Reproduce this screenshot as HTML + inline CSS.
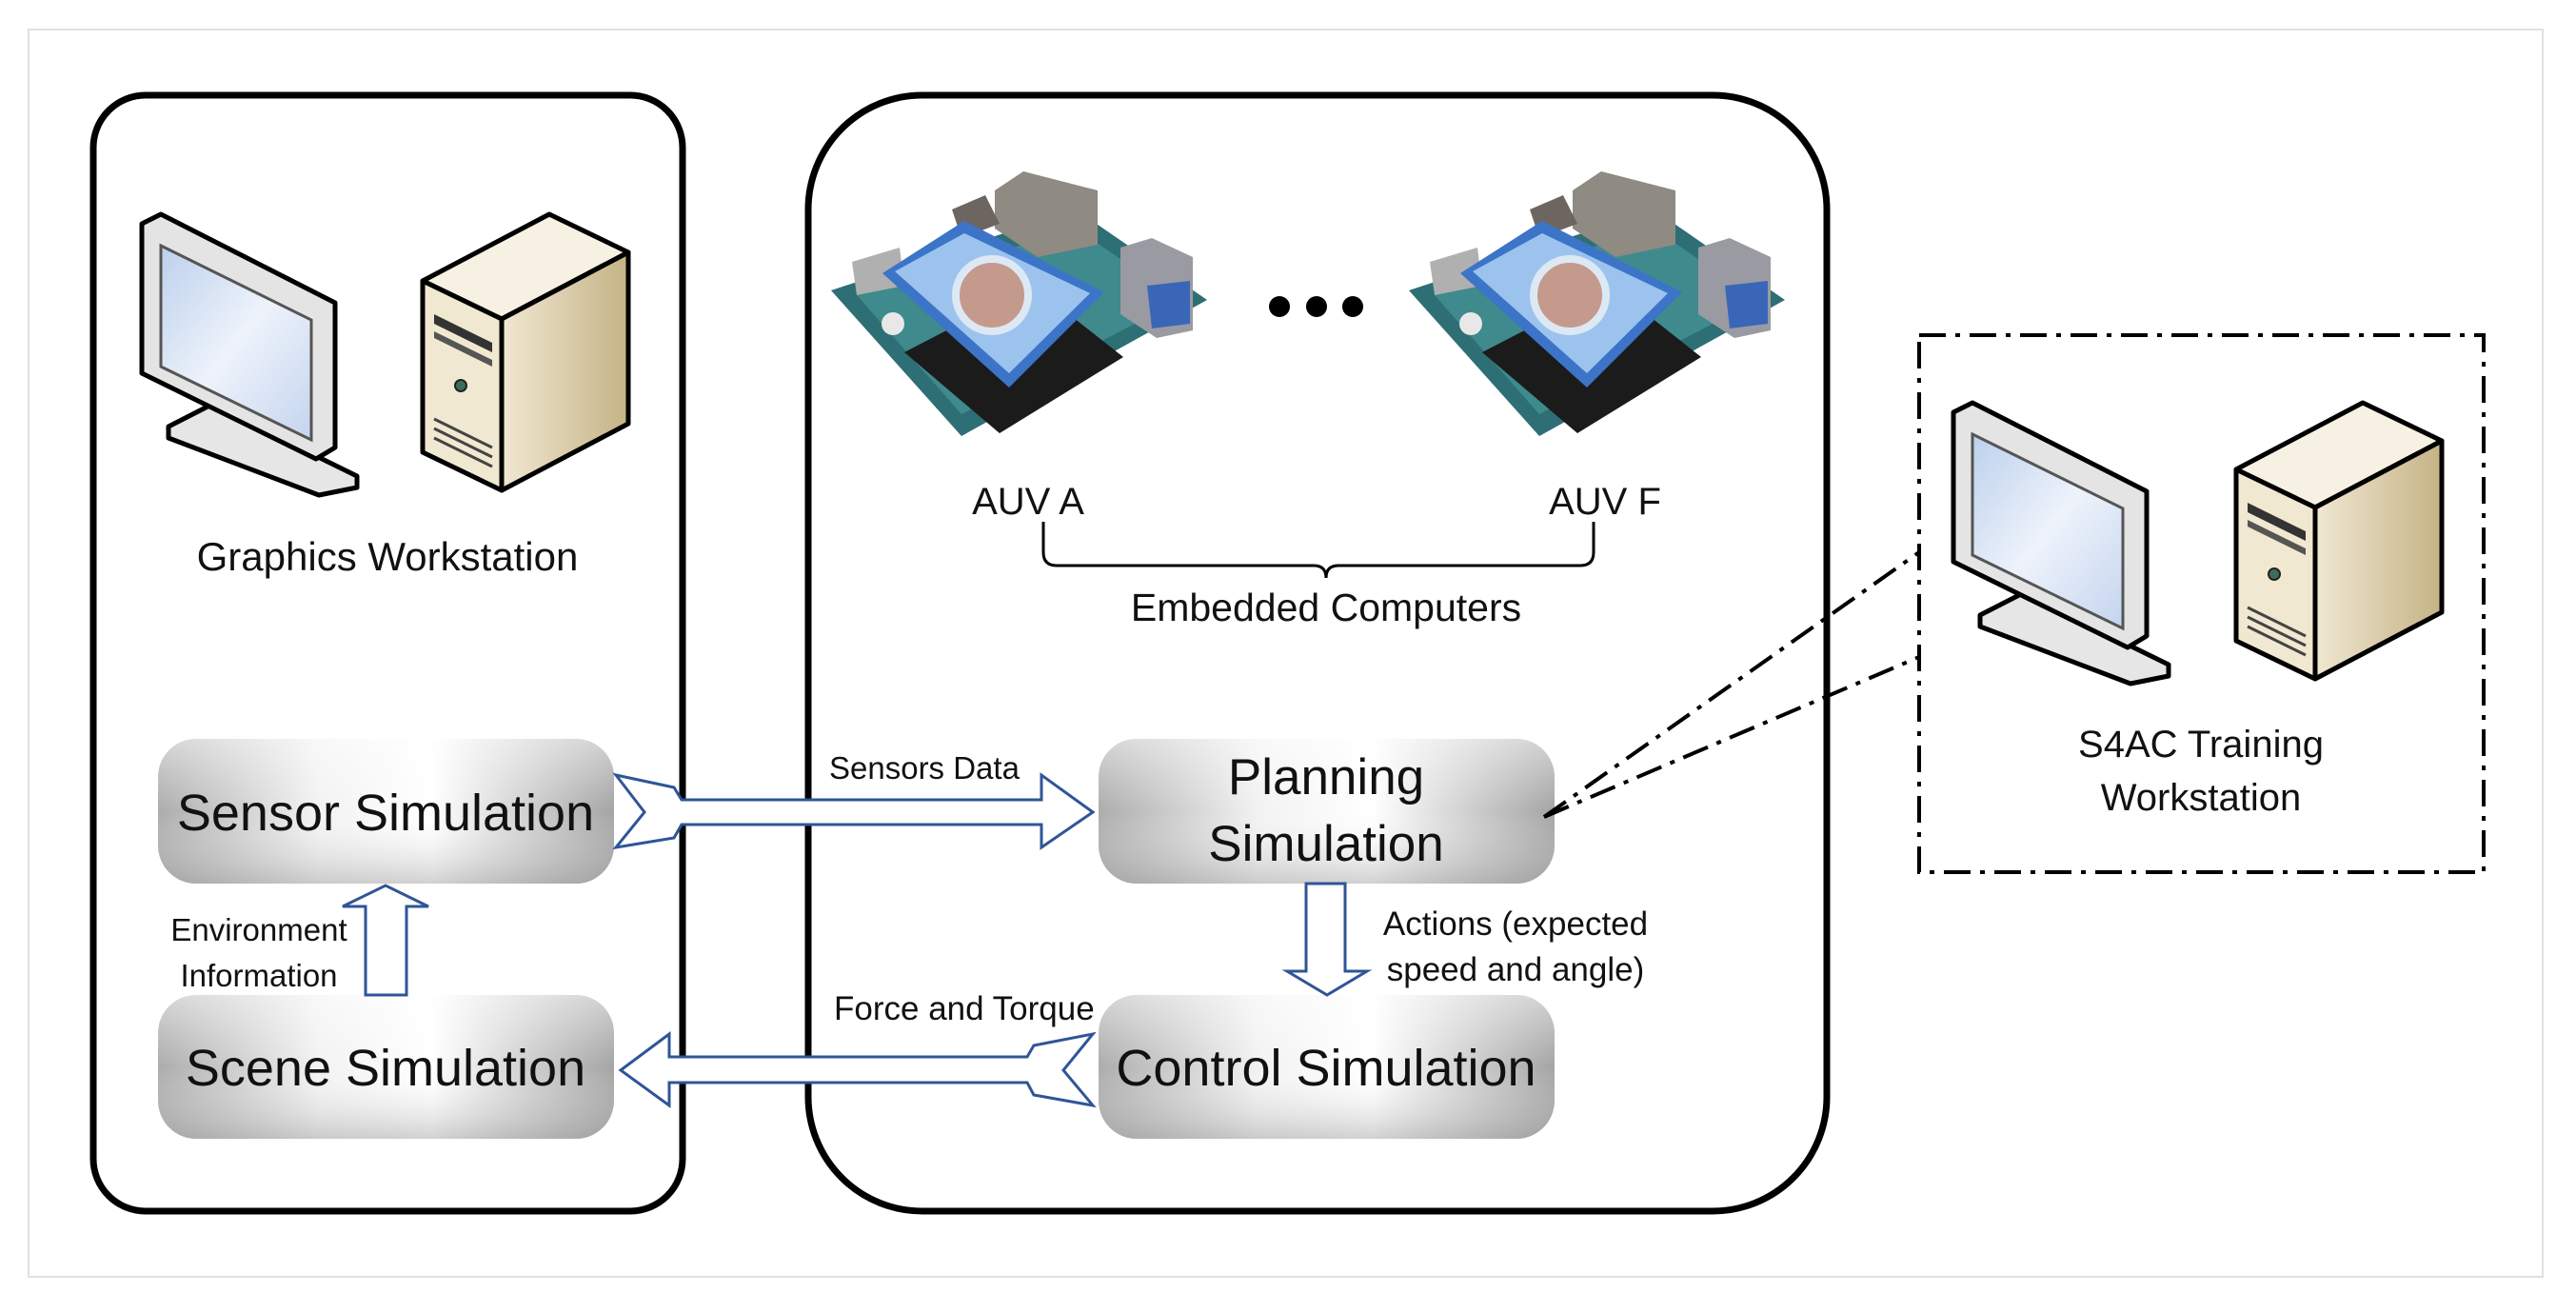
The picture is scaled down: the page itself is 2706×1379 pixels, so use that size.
<!DOCTYPE html>
<html><head><meta charset="utf-8"><style>
html,body{margin:0;padding:0;background:#fff}
svg{display:block}
text{font-family:"Liberation Sans",sans-serif;fill:#111}
</style></head><body>
<svg width="2706" height="1379" viewBox="0 0 2706 1379" xmlns="http://www.w3.org/2000/svg">
<defs>
<linearGradient id="bx" x1="0" y1="0" x2="1" y2="0">
<stop offset="0" stop-color="#acacac"/><stop offset="0.35" stop-color="#f2f2f2"/><stop offset="0.6" stop-color="#ffffff"/><stop offset="1" stop-color="#a4a4a4"/>
</linearGradient>
<linearGradient id="bv" x1="0" y1="0" x2="0" y2="1">
<stop offset="0" stop-color="#fff" stop-opacity="0.5"/><stop offset="0.5" stop-color="#fff" stop-opacity="0"/><stop offset="1" stop-color="#999" stop-opacity="0.45"/>
</linearGradient>
<linearGradient id="scr" x1="0" y1="0" x2="1" y2="1">
<stop offset="0" stop-color="#bcd0ec"/><stop offset="0.5" stop-color="#eef3fb"/><stop offset="1" stop-color="#c4d4ee"/>
</linearGradient>
<linearGradient id="side" x1="0" y1="0" x2="1" y2="0">
<stop offset="0" stop-color="#f0e8d2"/><stop offset="1" stop-color="#c5b386"/>
</linearGradient>
<g id="mon">
<polygon points="30,228 75,205 228,280 228,292 188,300 30,240" fill="#e6e6e6" stroke="#000" stroke-width="5" stroke-linejoin="round"/>
<polygon points="2,15 22,5 205,98 205,250 185,262 2,172" fill="#e4e4e4" stroke="#000" stroke-width="5" stroke-linejoin="round"/>
<polygon points="22,38 180,116 180,242 22,165" fill="url(#scr)" stroke="#555" stroke-width="3"/>
</g>
<g id="tow">
<polygon points="2,75 135,5 218,45 85,115" fill="#f6f1e2" stroke="#000" stroke-width="5" stroke-linejoin="round"/>
<polygon points="2,75 85,115 85,295 2,255" fill="#f0e8d0" stroke="#000" stroke-width="5" stroke-linejoin="round"/>
<polygon points="85,115 218,45 218,225 85,295" fill="url(#side)" stroke="#000" stroke-width="5" stroke-linejoin="round"/>
<polygon points="14,110 75,140 75,150 14,120" fill="#333"/>
<polygon points="14,128 75,158 75,165 14,135" fill="#555"/>
<circle cx="42" cy="185" r="6" fill="#3c6d5a" stroke="#222" stroke-width="2"/>
<line x1="14" y1="220" x2="75" y2="250" stroke="#444" stroke-width="3"/>
<line x1="14" y1="230" x2="75" y2="260" stroke="#444" stroke-width="3"/>
<line x1="14" y1="240" x2="75" y2="270" stroke="#444" stroke-width="3"/>
</g>
<g id="board">
<polygon points="13,145 150,298 408,155 270,60" fill="#2d6f74"/>
<polygon points="40,150 150,275 380,155 270,80" fill="#3f8a8c"/>
<polygon points="90,210 190,295 320,215 225,140" fill="#1b1b1b"/>
<polygon points="185,40 215,20 293,40 293,97 230,110 185,80" fill="#8f8a82"/>
<polygon points="140,60 175,45 190,75 150,90" fill="#6d6660"/>
<polygon points="317,100 350,90 393,110 393,187 355,195 317,170" fill="#9a9aa2"/>
<polygon points="345,140 390,135 390,180 350,185" fill="#3a66b8"/>
<polygon points="35,115 85,100 90,140 40,150" fill="#b0b0b0"/>
<polygon points="67,127 153,72 300,147 200,247" fill="#3c74c8"/>
<polygon points="80,125 153,85 285,148 200,232" fill="#9cc3ee"/>
<circle cx="182" cy="150" r="38" fill="#c49a8c" stroke="#dde8f5" stroke-width="8"/>
<circle cx="78" cy="180" r="12" fill="#e8e8e8"/>
</g>
</defs>

<rect x="30" y="31" width="2641" height="1310" fill="none" stroke="#e0e0e0" stroke-width="2"/>

<rect x="98" y="100" width="619" height="1172" rx="55" fill="none" stroke="#000" stroke-width="7"/>
<rect x="849" y="100" width="1070" height="1172" rx="120" fill="none" stroke="#000" stroke-width="7"/>

<use href="#mon" x="147" y="220"/>
<use href="#tow" x="442" y="220"/>
<use href="#mon" x="2050" y="418"/>
<use href="#tow" x="2347" y="418"/>
<use href="#board" x="860" y="160"/>
<use href="#board" x="1467" y="160"/>

<circle cx="1344" cy="322" r="11" fill="#000"/>
<circle cx="1383" cy="322" r="11" fill="#000"/>
<circle cx="1421" cy="322" r="11" fill="#000"/>

<text x="407" y="599" font-size="42" text-anchor="middle">Graphics Workstation</text>
<text x="1080" y="540" font-size="40" text-anchor="middle">AUV A</text>
<text x="1686" y="540" font-size="40" text-anchor="middle">AUV F</text>
<path d="M1096,548 V580 Q1096,594 1110,594 H1380 Q1393,594 1393,607 Q1393,594 1406,594 H1660 Q1674,594 1674,580 V548" fill="none" stroke="#000" stroke-width="3"/>
<text x="1393" y="652" font-size="41" text-anchor="middle">Embedded Computers</text>

<g>
<rect x="166" y="776" width="479" height="152" rx="40" fill="url(#bx)"/>
<rect x="166" y="776" width="479" height="152" rx="40" fill="url(#bv)"/>
<rect x="166" y="1045" width="479" height="151" rx="40" fill="url(#bx)"/>
<rect x="166" y="1045" width="479" height="151" rx="40" fill="url(#bv)"/>
<rect x="1154" y="776" width="479" height="152" rx="40" fill="url(#bx)"/>
<rect x="1154" y="776" width="479" height="152" rx="40" fill="url(#bv)"/>
<rect x="1154" y="1045" width="479" height="151" rx="40" fill="url(#bx)"/>
<rect x="1154" y="1045" width="479" height="151" rx="40" fill="url(#bv)"/>
</g>
<text x="405" y="872" font-size="54" text-anchor="middle">Sensor Simulation</text>
<text x="405" y="1140" font-size="54" text-anchor="middle">Scene Simulation</text>
<text x="1393" y="834" font-size="53" text-anchor="middle">Planning</text>
<text x="1393" y="904" font-size="53" text-anchor="middle">Simulation</text>
<text x="1393" y="1140" font-size="54" text-anchor="middle">Control Simulation</text>

<g fill="#fff" stroke="#2f5597" stroke-width="3" stroke-linejoin="miter">
<polygon points="647,814 708,827 716,840 1094,840 1094,814 1148,853 1094,890 1094,866 716,866 708,880 647,890 677,853"/>
<polygon points="652,1124 703,1086 703,1110 1079,1110 1086,1098 1148,1086 1117,1124 1148,1161 1086,1150 1079,1137 703,1137 703,1161"/>
<polygon points="384,1045 384,952 360,952 405,930 450,952 427,952 427,1045"/>
<polygon points="1372,928 1413,928 1413,1020 1436,1020 1394,1045 1352,1020 1372,1020"/>
</g>

<text x="871" y="818" font-size="33">Sensors Data</text>
<text x="272" y="988" font-size="33" text-anchor="middle">Environment</text>
<text x="272" y="1036" font-size="33" text-anchor="middle">Information</text>
<text x="876" y="1071" font-size="35">Force and Torque</text>
<text x="1592" y="982" font-size="35" text-anchor="middle">Actions (expected</text>
<text x="1592" y="1030" font-size="35" text-anchor="middle">speed and angle)</text>

<rect x="2016" y="352" width="593" height="564" fill="none" stroke="#000" stroke-width="4" stroke-dasharray="28,10,5,10"/>
<g stroke="#000" stroke-width="4" stroke-dasharray="28,10,5,10" fill="none">
<line x1="1622" y1="858" x2="2016" y2="580"/>
<line x1="1622" y1="858" x2="2016" y2="690"/>
</g>
<text x="2312" y="795" font-size="40" text-anchor="middle">S4AC Training</text>
<text x="2312" y="851" font-size="40" text-anchor="middle">Workstation</text>
</svg>
</body></html>
